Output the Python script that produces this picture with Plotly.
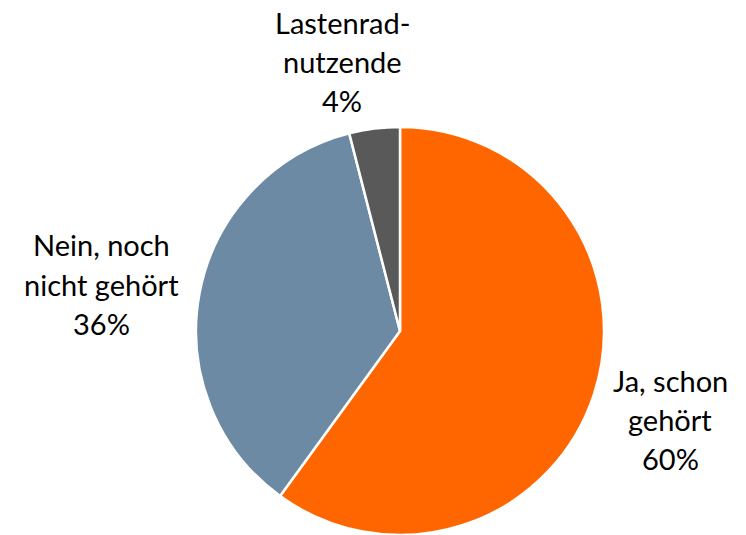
import plotly.graph_objects as go

labels = ["Ja, schon gehört", "Nein, noch nicht gehört", "Lastenrad-nutzende"]
label_lines = [["Ja, schon", "gehört"], ["Nein, noch", "nicht gehört"], ["Lastenrad-", "nutzende"]]
values = [60, 36, 4]
colors = ["#FF6600", "#6D8AA5", "#595959"]

W, H = 746, 535
cx0, cy0, r = 400, 331, 204

fig = go.Figure(go.Pie(
    labels=labels, values=values, sort=False, direction="clockwise", rotation=0,
    marker=dict(colors=colors, line=dict(color="white", width=2.5)),
    textinfo="none", hoverinfo="label+percent", showlegend=False,
    domain=dict(x=[(cx0 - r) / W, (cx0 + r) / W], y=[(H - cy0 - r) / H, (H - cy0 + r) / H]),
))

# label anchor positions (pixel centers of first line)
anchors = [(670, 380), (101, 245), (342, 22)]
spacing = 39
annotations = []
for lines, v, (cx, cy) in zip(label_lines, values, anchors):
    all_lines = lines + [f"{v}%"]
    for i, t in enumerate(all_lines):
        y = cy + i * spacing
        annotations.append(dict(
            text=t, x=cx / W, y=1 - y / H, xref="paper", yref="paper",
            showarrow=False, xanchor="center", yanchor="middle", borderpad=0,
            font=dict(family="Lato", size=29, color="#000000"),
        ))

fig.update_layout(
    width=W, height=H, margin=dict(l=0, r=0, t=0, b=0),
    paper_bgcolor="white", plot_bgcolor="white",
    annotations=annotations,
)
fig.write_html("out.html", config={"displayModeBar": False},
               post_script="document.body.style.margin='0';")
